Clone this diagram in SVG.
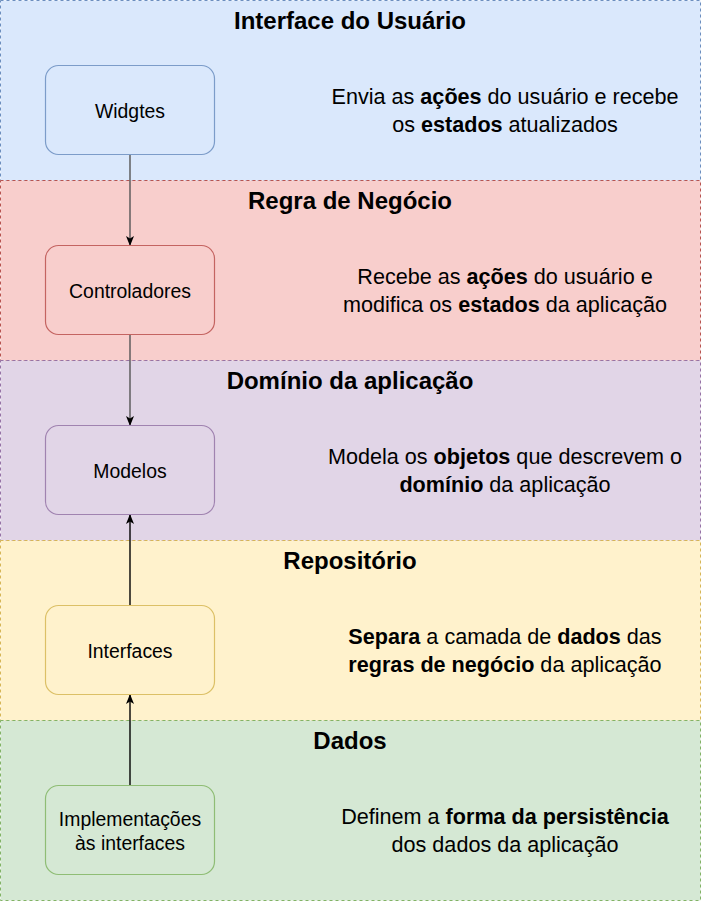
<svg xmlns="http://www.w3.org/2000/svg" width="701" height="902" viewBox="0 0 701 902">
<style>
.band{stroke-width:1;stroke-dasharray:3 3}
.node{stroke-width:1.2}
.title{font-family:"Liberation Sans",Arial,sans-serif;font-size:24px;font-weight:bold;text-anchor:middle;fill:#000}
.desc{font-family:"Liberation Sans",Arial,sans-serif;font-size:21.6px;text-anchor:middle;fill:#000}
.lbl{font-family:"Liberation Sans",Arial,sans-serif;font-size:19.4px;text-anchor:middle;fill:#000}
.b{font-weight:bold}
.edge{fill:none;stroke-width:1.4}
</style>
<defs>
<marker id="arr" markerWidth="10" markerHeight="10" viewBox="0 0 10 10" refX="9" refY="5" orient="auto" markerUnits="userSpaceOnUse">
<path d="M0,1 L10,5 L0,9 L2.5,5 z" fill="#000"/>
</marker>
</defs>
<g id="band-ui">
<rect class="band" x="0.5" y="0.5" width="700" height="180" fill="#dae8fc" stroke="#6c8ebf"/>
<text class="title" x="350" y="29">Interface do Usuário</text>
<text class="desc" x="505" y="104">Envia as <tspan class="b">ações</tspan> do usuário e recebe</text>
<text class="desc" x="505" y="132">os <tspan class="b">estados</tspan> atualizados</text>
</g>
<g id="band-regra">
<rect class="band" x="0.5" y="180.5" width="700" height="180" fill="#f8cecc" stroke="#b85450"/>
<text class="title" x="350" y="209">Regra de Negócio</text>
<text class="desc" x="505" y="284">Recebe as <tspan class="b">ações</tspan> do usuário e</text>
<text class="desc" x="505" y="312">modifica os <tspan class="b">estados</tspan> da aplicação</text>
</g>
<g id="band-dominio">
<rect class="band" x="0.5" y="360.5" width="700" height="180" fill="#e1d5e7" stroke="#9673a6"/>
<text class="title" x="350" y="389">Domínio da aplicação</text>
<text class="desc" x="505" y="464">Modela os <tspan class="b">objetos</tspan> que descrevem o</text>
<text class="desc" x="505" y="492"><tspan class="b">domínio</tspan> da aplicação</text>
</g>
<g id="band-repo">
<rect class="band" x="0.5" y="540.5" width="700" height="180" fill="#fff2cc" stroke="#d6b656"/>
<text class="title" x="350" y="569">Repositório</text>
<text class="desc" x="505" y="644"><tspan class="b">Separa</tspan> a camada de <tspan class="b">dados</tspan> das</text>
<text class="desc" x="505" y="672"><tspan class="b">regras de negócio</tspan> da aplicação</text>
</g>
<g id="band-dados">
<rect class="band" x="0.5" y="720.5" width="700" height="180" fill="#d5e8d4" stroke="#82b366"/>
<text class="title" x="350" y="749">Dados</text>
<text class="desc" x="505" y="824">Definem a <tspan class="b">forma da persistência</tspan></text>
<text class="desc" x="505" y="852">dos dados da aplicação</text>
</g>
<g id="edges">
<line class="edge" x1="130" y1="155" x2="130" y2="245" stroke="#555" marker-end="url(#arr)"/>
<line class="edge" x1="130" y1="335" x2="130" y2="425" stroke="#555" marker-end="url(#arr)"/>
<line class="edge" x1="130" y1="605" x2="130" y2="515" stroke="#000" marker-end="url(#arr)"/>
<line class="edge" x1="130" y1="785" x2="130" y2="695" stroke="#000" marker-end="url(#arr)"/>
</g>
<g id="node-widgets">
<rect class="node" x="45.5" y="65.5" width="169" height="89" rx="13" fill="#dae8fc" stroke="#7c9cc9"/>
<text class="lbl" x="130" y="118">Widgtes</text>
</g>
<g id="node-controladores">
<rect class="node" x="45.5" y="245.5" width="169" height="89" rx="13" fill="#f8cecc" stroke="#c46461"/>
<text class="lbl" x="130" y="298">Controladores</text>
</g>
<g id="node-modelos">
<rect class="node" x="45.5" y="425.5" width="169" height="89" rx="13" fill="#e1d5e7" stroke="#a083b0"/>
<text class="lbl" x="130" y="478">Modelos</text>
</g>
<g id="node-interfaces">
<rect class="node" x="45.5" y="605.5" width="169" height="89" rx="13" fill="#fff2cc" stroke="#dcc066"/>
<text class="lbl" x="130" y="658">Interfaces</text>
</g>
<g id="node-impl">
<rect class="node" x="45.5" y="785.5" width="169" height="89" rx="13" fill="#d5e8d4" stroke="#8fbd75"/>
<text class="lbl" x="130" y="826">Implementações</text>
<text class="lbl" x="130" y="850">às interfaces</text>
</g>
</svg>
